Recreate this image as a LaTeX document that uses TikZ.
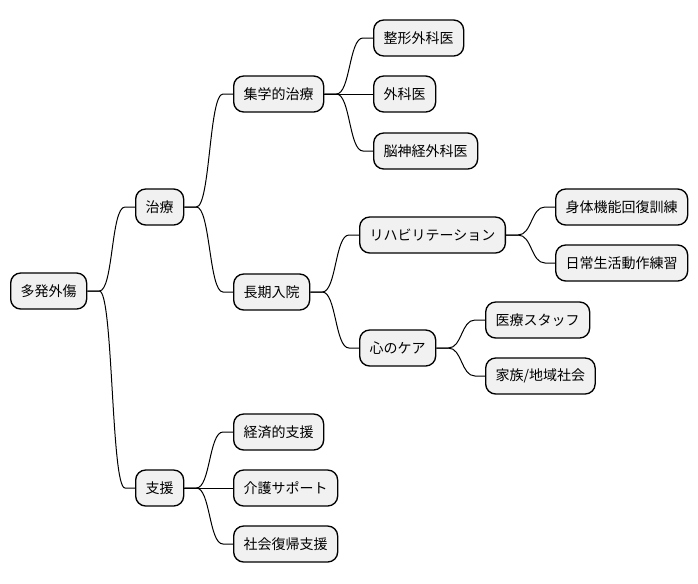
\documentclass[tikz,border=0pt]{standalone}
\usepackage{fontspec}
\setmainfont{Noto Sans CJK JP}
\definecolor{boxfill}{RGB}{241,241,241}
\tikzset{every picture/.style={line width=0.75pt}}
\tikzset{
  topic/.style={draw=black, fill=boxfill, line width=1pt, rounded corners=7.5pt,
    anchor=west, inner xsep=7.5pt, inner ysep=0pt, minimum height=27pt, font=\fontsize{10.5pt}{12pt}\selectfont},
  branch/.style={draw=black, line width=0.75pt}
}

\begin{document}
\begin{tikzpicture}[x=0.75pt,y=0.75pt,yscale=-1,xscale=1]
\useasboundingbox (0,0) rectangle (698,583);

% Root
\node[topic] (root) at (10,291) {多発外傷};

% Level 1
\node[topic] (chiryo) at (135,207) {治療};
\node[topic] (shien) at (135,488) {支援};

% Level 2 : 治療
\node[topic] (shugaku) at (233,94) {集学的治療};
\node[topic] (choki) at (233,292) {長期入院};

% Level 3 : 集学的治療
\node[topic] (seikei) at (373,38) {整形外科医};
\node[topic] (geka) at (373,94) {外科医};
\node[topic] (noshinkei) at (373,151) {脳神経外科医};

% Level 3 : 長期入院
\node[topic] (reha) at (359,235) {リハビリテーション};
\node[topic] (kokoro) at (359,348) {心のケア};

% Level 4
\node[topic] (shintai) at (555,207) {身体機能回復訓練};
\node[topic] (nichijo) at (555,263) {日常生活動作練習};
\node[topic] (iryo) at (485,320) {医療スタッフ};
\node[topic] (kazoku) at (485,376) {家族/地域社会};

% Level 2 : 支援
\node[topic] (keizai) at (233,432) {経済的支援};
\node[topic] (kaigo) at (233,488) {介護サポート};
\node[topic] (shakai) at (233,544) {社会復帰支援};

% Branches
\draw[branch] (root.east) -- ++(12,0) .. controls +(14,0) and +(-14,0) .. ([xshift=-7.5pt]chiryo.west) -- (chiryo.west);
\draw[branch] (root.east) -- ++(12,0) .. controls +(14,0) and +(-14,0) .. ([xshift=-7.5pt]shien.west) -- (shien.west);

\draw[branch] (chiryo.east) -- ++(12,0) .. controls +(14,0) and +(-14,0) .. ([xshift=-7.5pt]shugaku.west) -- (shugaku.west);
\draw[branch] (chiryo.east) -- ++(12,0) .. controls +(14,0) and +(-14,0) .. ([xshift=-7.5pt]choki.west) -- (choki.west);

\draw[branch] (shugaku.east) -- ++(12,0) .. controls +(14,0) and +(-14,0) .. ([xshift=-7.5pt]seikei.west) -- (seikei.west);
\draw[branch] (shugaku.east) -- (geka.west);
\draw[branch] (shugaku.east) -- ++(12,0) .. controls +(14,0) and +(-14,0) .. ([xshift=-7.5pt]noshinkei.west) -- (noshinkei.west);

\draw[branch] (choki.east) -- ++(12,0) .. controls +(14,0) and +(-14,0) .. ([xshift=-7.5pt]reha.west) -- (reha.west);
\draw[branch] (choki.east) -- ++(12,0) .. controls +(14,0) and +(-14,0) .. ([xshift=-7.5pt]kokoro.west) -- (kokoro.west);

\draw[branch] (reha.east) -- ++(12,0) .. controls +(14,0) and +(-14,0) .. ([xshift=-7.5pt]shintai.west) -- (shintai.west);
\draw[branch] (reha.east) -- ++(12,0) .. controls +(14,0) and +(-14,0) .. ([xshift=-7.5pt]nichijo.west) -- (nichijo.west);

\draw[branch] (kokoro.east) -- ++(12,0) .. controls +(14,0) and +(-14,0) .. ([xshift=-7.5pt]iryo.west) -- (iryo.west);
\draw[branch] (kokoro.east) -- ++(12,0) .. controls +(14,0) and +(-14,0) .. ([xshift=-7.5pt]kazoku.west) -- (kazoku.west);

\draw[branch] (shien.east) -- ++(12,0) .. controls +(14,0) and +(-14,0) .. ([xshift=-7.5pt]keizai.west) -- (keizai.west);
\draw[branch] (shien.east) -- (kaigo.west);
\draw[branch] (shien.east) -- ++(12,0) .. controls +(14,0) and +(-14,0) .. ([xshift=-7.5pt]shakai.west) -- (shakai.west);

\end{tikzpicture}
\end{document}
